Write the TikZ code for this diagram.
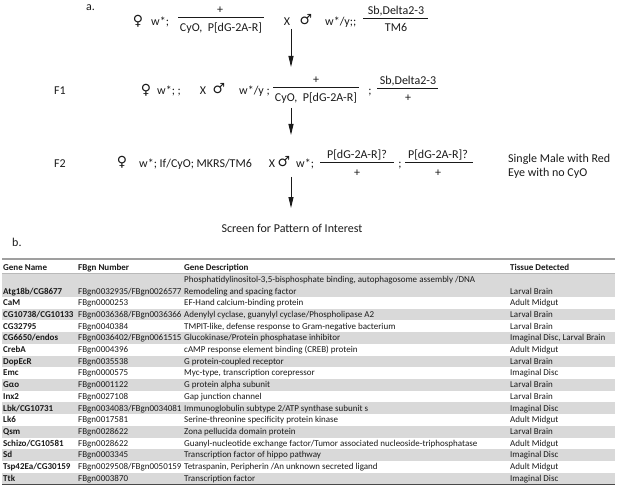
\documentclass[tikz,border=0pt]{standalone}
\usepackage{fontspec}
\setmainfont{Carlito}
\newfontfamily\symfont{DejaVu Sans}
\usetikzlibrary{arrows.meta}
\definecolor{rowgray}{HTML}{D9D9D9}
\definecolor{ink}{HTML}{1A1A1A}
\tikzset{
  txt/.style={inner sep=0pt, anchor=base west, text=ink, font=\fontsize{12}{14}\selectfont},
  mid/.style={txt, anchor=base},
  sym/.style={inner sep=0pt, text=ink, font=\symfont\fontsize{14}{14}\selectfont},
  bar/.style={ink, line width=0.6pt},
  down/.style={ink, line width=0.9pt, -{Triangle[length=11pt,width=5pt]}},
  cell/.style={inner sep=0pt, anchor=base west, text=ink, font=\fontsize{9}{11}\selectfont},
  gene/.style={cell, font=\fontsize{9}{11}\selectfont\bfseries}
}
% one row of the table: index, gene, FBgn, description, tissue
\newcommand{\generow}[5]{%
  \node[gene] (g#1) at (3,{297+(#1-1)*11.72+8.6}) {#2};
  \node[cell] (f#1) at (78,{297+(#1-1)*11.72+8.6}) {#3};
  \node[cell] (d#1) at (184,{297+(#1-1)*11.72+8.6}) {#4};
  \node[cell] (t#1) at (510,{297+(#1-1)*11.72+8.6}) {#5};}

\begin{document}
\begin{tikzpicture}[x=1pt,y=-1pt]
        \useasboundingbox (0,0) rectangle (617,486);
        \node[txt] (parta) at (86,11) {a.};

        % parental cross
        \node[sym] (p0f) at (138,21) {♀};
        \node[txt] (p0fg) at (151,25.5) {w*;};
        \node[mid] (p0fn) at (220,13.5) {+};
        \node[mid] (p0fd) at (221,32) {CyO,\ \ P[dG-2A-R]};
        \draw[bar] (178,17) -- (264,17);
        \node[mid] (p0x) at (287,25.5) {X};
        \node[sym] (p0m) at (306,20) {♂};
        \node[txt] (p0mg) at (325,25.5) {w*/y;;};
        \node[mid] (p0mn) at (396,14.5) {Sb,Delta2-3};
        \node[mid] (p0md) at (396,32) {TM6};
        \draw[bar] (363,18) -- (428,18);
        \coordinate (a1s) at (291,29);
        \coordinate (a1e) at (291,67);
        \draw[down] (a1s) -- (a1e);

        % F1
        \node[txt] (f1) at (54,94.5) {F1};
        \node[sym] (f1f) at (146,90) {♀};
        \node[txt] (f1fg) at (157,94.5) {w*; ;};
        \node[mid] (f1x) at (203,94.5) {X};
        \node[sym] (f1m) at (219,89) {♂};
        \node[txt] (f1mg) at (239,94.5) {w*/y ;};
        \node[mid] (f1n1) at (316,83.5) {+};
        \node[mid] (f1d1) at (316,102) {CyO,\ \ P[dG-2A-R]};
        \draw[bar] (273,87) -- (359,87);
        \node[mid] (f1semi) at (370,94.5) {;};
        \node[mid] (f1n2) at (408,84.5) {Sb,Delta2-3};
        \node[mid] (f1d2) at (408,102) {+};
        \draw[bar] (377,88) -- (438,88);
        \coordinate (a2s) at (291,108);
        \coordinate (a2e) at (291,135);
        \draw[down] (a2s) -- (a2e);

        % F2
        \node[txt] (f2) at (54,167.5) {F2};
        \node[sym] (f2f) at (122,162) {♀};
        \node[txt] (f2fg) at (139,167.5) {w*; If/CyO; MKRS/TM6};
        \node[mid] (f2x) at (272,167.5) {X};
        \node[sym] (f2m) at (284,162) {♂};
        \node[txt] (f2mg) at (296,167.5) {w*;};
        \node[mid] (f2n1) at (357,158.5) {P[dG-2A-R]?};
        \node[mid] (f2d1) at (357,177) {+};
        \draw[bar] (320,162.5) -- (394,162.5);
        \node[mid] (f2semi) at (400,167.5) {;};
        \node[mid] (f2n2) at (438,158.5) {P[dG-2A-R]?};
        \node[mid] (f2d2) at (438,177) {+};
        \draw[bar] (405,162.5) -- (473,162.5);
        \node[txt] (note1) at (508,162.5) {Single Male with Red};
        \node[txt] (note2) at (508,176.5) {Eye with no CyO};
        \coordinate (a3s) at (291,177);
        \coordinate (a3e) at (291,208);
        \draw[down] (a3s) -- (a3e);
        \node[mid] (screen) at (292,232) {Screen for Pattern of Interest};

        % table
        \node[txt] (partb) at (12,246.5) {b.};
        \fill[rowgray] (2,273.4) rectangle (615,297);
        \foreach \i in {2,4,...,16}
            \fill[rowgray] (2,{297+(\i-1)*11.72}) rectangle (615,{297+\i*11.72});
        \draw[gray!75, line width=1.4pt] (2,259) -- (615,259);
        \draw[gray!55, line width=0.5pt] (2,273.4) -- (615,273.4);
        \draw[ink!80, line width=1.3pt] (2,484.8) -- (615,484.8);
        \node[gene] (hg) at (3,270) {Gene Name};
        \node[gene] (hf) at (78,270) {FBgn Number};
        \node[gene] (hd) at (184,270) {Gene Description};
        \node[gene] (ht) at (510,270) {Tissue Detected};
        \node[gene] (g0) at (3,294) {Atg18b/CG8677};
        \node[cell] (f0) at (78,294) {FBgn0032935/FBgn0026577};
        \node[cell] (d0a) at (184,282.3) {Phosphatidylinositol-3,5-bisphosphate binding, autophagosome assembly /DNA};
        \node[cell] (d0b) at (184,294) {Remodeling and spacing factor};
        \node[cell] (t0) at (510,294) {Larval Brain};
        \generow{1}{CaM}{FBgn0000253}{EF-Hand calcium-binding protein}{Adult Midgut}
        \generow{2}{CG10738/CG10133}{FBgn0036368/FBgn0036366}{Adenylyl cyclase, guanylyl cyclase/Phospholipase A2}{Larval Brain}
        \generow{3}{CG32795}{FBgn0040384}{TMPIT-like, defense response to Gram-negative bacterium}{Larval Brain}
        \generow{4}{CG6650/endos}{FBgn0036402/FBgn0061515}{Glucokinase/Protein phosphatase inhibitor}{Imaginal Disc, Larval Brain}
        \generow{5}{CrebA}{FBgn0004396}{cAMP response element binding (CREB) protein}{Adult Midgut}
        \generow{6}{DopEcR}{FBgn0035538}{G protein-coupled receptor}{Larval Brain}
        \generow{7}{Emc}{FBgn0000575}{Myc-type, transcription corepressor}{Imaginal Disc}
        \generow{8}{Gαo}{FBgn0001122}{G protein alpha subunit}{Larval Brain}
        \generow{9}{Inx2}{FBgn0027108}{Gap junction channel}{Larval Brain}
        \generow{10}{Lbk/CG10731}{FBgn0034083/FBgn0034081}{Immunoglobulin subtype 2/ATP synthase subunit s}{Imaginal Disc}
        \generow{11}{Lk6}{FBgn0017581}{Serine-threonine specificity protein kinase}{Adult Midgut}
        \generow{12}{Qsm}{FBgn0028622}{Zona pellucida domain protein}{Larval Brain}
        \generow{13}{Schizo/CG10581}{FBgn0028622}{Guanyl-nucleotide exchange factor/Tumor associated nucleoside-triphosphatase}{Adult Midgut}
        \generow{14}{Sd}{FBgn0003345}{Transcription factor of hippo pathway}{Imaginal Disc}
        \generow{15}{Tsp42Ea/CG30159}{FBgn0029508/FBgn0050159}{Tetraspanin, Peripherin /An unknown secreted ligand}{Adult Midgut}
        \generow{16}{Ttk}{FBgn0003870}{Transcription factor}{Imaginal Disc}
    \end{tikzpicture}
\end{document}
